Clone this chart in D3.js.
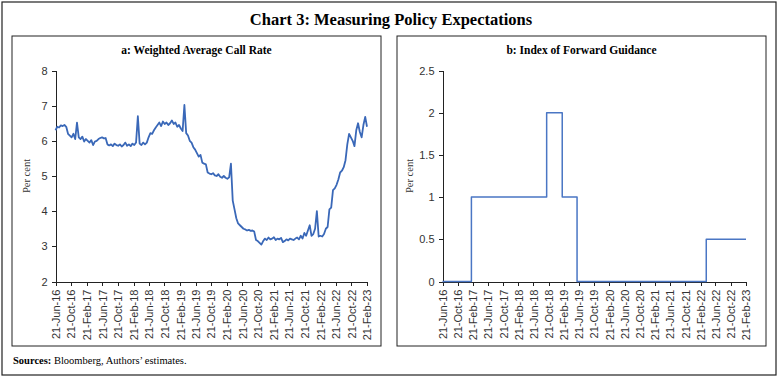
<!DOCTYPE html>
<html>
<head>
<meta charset="utf-8">
<script src="https://cdn.jsdelivr.net/npm/d3@7"></script>
<style>
  body { margin: 0; background: #fff; }
  svg { display: block; font-family: "Liberation Serif", "Times New Roman", serif; }
  .axis path, .axis line { stroke: #222; shape-rendering: crispEdges; }
  .axis text { fill: #333; font-size: 11px; }
</style>
</head>
<body>
<svg id="chart" width="780" height="377"></svg>
<script>
// x-axis labels shared by both panels
const tickLabels = [
  "21-Jun-16", "21-Oct-16", "21-Feb-17", "21-Jun-17", "21-Oct-17", "21-Feb-18",
  "21-Jun-18", "21-Oct-18", "21-Feb-19", "21-Jun-19", "21-Oct-19", "21-Feb-20",
  "21-Jun-20", "21-Oct-20", "21-Feb-21", "21-Jun-21", "21-Oct-21", "21-Feb-22",
  "21-Jun-22", "21-Oct-22", "21-Feb-23"
];

/* Panel a: weighted average call rate, one reading every fortnight from 21-Jun-16 */
const callStart = "2016-06-21";
const callStepDays = 14;
const callRate = [
  6.30, 6.40, 6.38, 6.44, 6.42, 6.45, 6.40, 6.20, 6.15, 6.10,
  6.20, 6.05, 6.52, 6.10, 6.05, 6.12, 5.98, 6.05, 6.00, 5.95,
  6.02, 5.88, 5.98, 6.00, 6.05, 6.08, 6.10, 6.07, 6.08, 5.90,
  5.87, 5.90, 5.85, 5.92, 5.88, 5.86, 5.90, 5.84, 5.88, 5.95,
  5.86, 5.90, 5.85, 5.92, 5.88, 5.95, 6.70, 5.92, 5.88, 5.95,
  5.90, 5.95, 6.10, 6.22, 6.20, 6.30, 6.38, 6.45, 6.52, 6.42,
  6.55, 6.48, 6.52, 6.45, 6.50, 6.58, 6.48, 6.52, 6.40, 6.45,
  6.35, 6.28, 7.02, 6.22, 6.15, 6.00, 5.95, 5.82, 5.75, 5.65,
  5.55, 5.60, 5.38, 5.35, 5.33, 5.10, 5.07, 5.05, 5.08, 5.02,
  5.00, 5.05, 4.98, 4.95, 5.00, 4.95, 4.92, 4.96, 5.35, 4.30,
  4.05, 3.80, 3.65, 3.60, 3.55, 3.50, 3.48, 3.45, 3.47, 3.44,
  3.45, 3.42, 3.18, 3.15, 3.10, 3.05, 3.15, 3.22, 3.18, 3.25,
  3.20, 3.22, 3.26, 3.18, 3.22, 3.20, 3.24, 3.12, 3.15, 3.20,
  3.17, 3.22, 3.20, 3.18, 3.22, 3.25, 3.20, 3.30, 3.22, 3.38,
  3.30, 3.45, 3.60, 3.30, 3.35, 3.50, 4.00, 3.28, 3.30, 3.28,
  3.35, 3.50, 3.55, 4.05, 4.10, 4.60, 4.65, 4.75, 4.90, 5.10,
  5.15, 5.25, 5.45, 5.90, 6.20, 6.10, 6.00, 5.85, 6.30, 6.50,
  6.25, 6.10, 6.45, 6.68, 6.40
];

/* Panel b: index of forward guidance, stepped at policy dates */
const guidanceDates = [
  "2016-06-21", "2017-02-08", "2018-10-05", "2019-02-07",
  "2019-06-06", "2022-04-08", "2023-02-21"
];
const guidanceIndex = [0, 1, 2, 1, 0, 0.5, 0.5];

const callTicks = [2, 3, 4, 5, 6, 7, 8];
const guidanceTicks = [0, 0.5, 1, 1.5, 2, 2.5];

const parseTick = d3.timeParse("%d-%b-%y");
const parseIso = d3.timeParse("%Y-%m-%d");
const tickDates = tickLabels.map(parseTick);
const fmtTick = d3.timeFormat("%d-%b-%y");

const svg = d3.select("#chart");

// outer frame and title
svg.append("rect")
  .attr("x", 2).attr("y", 2).attr("width", 774).attr("height", 373)
  .attr("fill", "none").attr("stroke", "#222").attr("stroke-width", 1.2);

svg.append("text")
  .attr("x", 391).attr("y", 25)
  .attr("text-anchor", "middle")
  .style("font-size", "16.5px").style("font-weight", "bold")
  .text("Chart 3: Measuring Policy Expectations");

svg.append("text")
  .attr("x", 13).attr("y", 364)
  .style("font-size", "10.5px")
  .call(t => {
    t.append("tspan").style("font-weight", "bold").text("Sources:");
    t.append("tspan").text(" Bloomberg, Authors\u2019 estimates.");
  });

/*
 * Draw one panel: frame, title, axes and line.
 */
function buildPanel(opts) {
  const g = svg.append("g");

  g.append("rect")
    .attr("x", opts.box[0]).attr("y", 36)
    .attr("width", opts.box[1] - opts.box[0]).attr("height", 310)
    .attr("fill", "none").attr("stroke", "#222").attr("stroke-width", 1);

  g.append("text")
    .attr("x", (opts.box[0] + opts.box[1]) / 2).attr("y", 54)
    .attr("text-anchor", "middle")
    .style("font-size", "11.5px").style("font-weight", "bold")
    .text(opts.title);

  const xScale = d3.scaleTime()
    .domain([tickDates[0], tickDates[tickDates.length - 1]])
    .range(opts.xRange);

  const yScale = d3.scaleLinear()
    .domain(d3.extent(opts.yTicks))
    .range([281.5, 70.5]);

  // x-axis with rotated date labels
  g.append("g")
    .attr("class", "x axis")
    .attr("transform", "translate(0,281.5)")
    .call(d3.axisBottom(xScale).tickValues(tickDates).tickFormat(fmtTick)
      .tickSize(4).tickSizeOuter(0))
    .selectAll("text")
    .attr("transform", "rotate(-90)")
    .attr("text-anchor", "end")
    .attr("x", -8).attr("y", 0).attr("dy", "0.35em");

  // y-axis
  g.append("g")
    .attr("class", "y axis")
    .attr("transform", "translate(" + opts.xRange[0] + ",0)")
    .call(d3.axisLeft(yScale).tickValues(opts.yTicks).tickFormat(d3.format("~g"))
      .tickSize(4).tickSizeOuter(0))
    .selectAll("text").attr("x", -8);

  g.append("text")
    .attr("transform", "translate(" + opts.labelX + ",176) rotate(-90)")
    .attr("text-anchor", "middle")
    .style("font-size", "10.5px").style("fill", "#333")
    .text("Per cent");

  const line = d3.line()
    .x(d => xScale(d.date))
    .y(d => yScale(d.value))
    .curve(opts.curve);

  g.append("path")
    .datum(opts.data)
    .attr("fill", "none")
    .attr("stroke", opts.color)
    .attr("stroke-width", opts.width)
    .attr("stroke-linejoin", "round")
    .attr("d", line);
}

const startDate = parseIso(callStart);
const callData = callRate.map((v, i) => ({
  date: d3.timeDay.offset(startDate, i * callStepDays),
  value: v
}));

const guidanceData = guidanceDates.map((d, i) => ({
  date: parseIso(d),
  value: guidanceIndex[i]
}));

buildPanel({
  box: [12, 381],
  title: "a: Weighted Average Call Rate",
  xRange: [55.5, 367],
  yTicks: callTicks,
  labelX: 30,
  data: callData,
  curve: d3.curveLinear,
  color: "#3a68b8",
  width: 1.8
});

buildPanel({
  box: [397, 766],
  title: "b: Index of Forward Guidance",
  xRange: [442.5, 746],
  yTicks: guidanceTicks,
  labelX: 413,
  data: guidanceData,
  curve: d3.curveStepAfter,
  color: "#4a76c4",
  width: 1.5
});
</script>
</body>
</html>
